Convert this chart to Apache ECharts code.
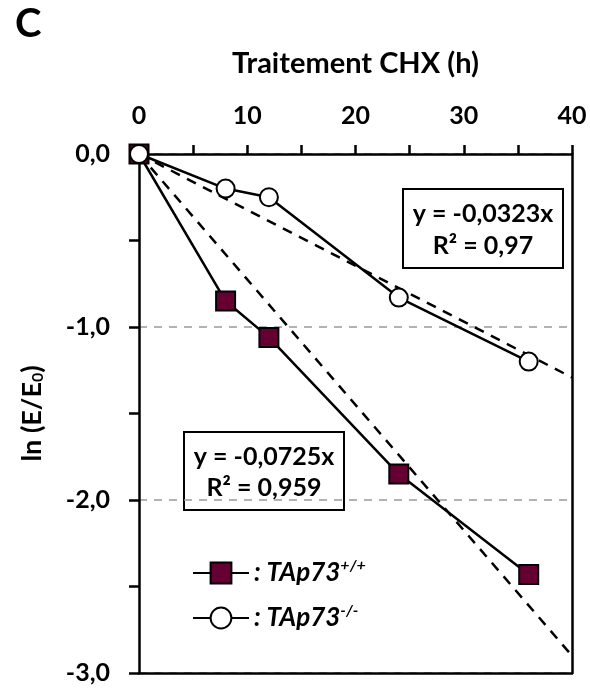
<!DOCTYPE html>
<html><head><meta charset="utf-8">
<script src="https://cdn.jsdelivr.net/npm/echarts@6/dist/echarts.min.js"></script>
<style>html,body{margin:0;padding:0;background:#fff}#c{width:590px;height:690px}</style>
</head><body><div id="c"></div>
<script>
// ---- data ----
const timesH = [0, 8, 12, 24, 36];
const wildType = [0, -0.85, -1.06, -1.85, -2.43];      // TAp73+/+
const knockout = [0, -0.20, -0.25, -0.83, -1.20];      // TAp73-/-
const fitWildTypeX = [0, 40];
const fitWildTypeY = [0, -2.90];
const fitKnockoutX = [0, 40];
const fitKnockoutY = [0, -1.292];
const wtEquation = ['y = -0,0725x', 'R² = 0,959'];
const koEquation = ['y = -0,0323x', 'R² = 0,97'];
const xTickLabels = ['0', '10', '20', '30', '40'];
const yTickLabels = ['0,0', '-1,0', '-2,0', '-3,0'];

const FONT = 'Lato';
const zip = (xs, ys) => xs.map((x, i) => [x, ys[i]]);
const eqText = (x, y, t) => ({type: 'text', x: x, y: y, style: {text: t, align: 'center', verticalAlign: 'middle', fontSize: 25, fontWeight: 'bold', fontFamily: FONT, fill: '#000'}});
const frameLine = {onZero: false, lineStyle: {color: '#000', width: 2.5}};

const chart = echarts.init(document.getElementById('c'), null, {renderer: 'canvas'});
chart.setOption({
  animation: false,
  backgroundColor: '#fff',
  textStyle: {fontFamily: FONT},
  grid: {left: 139, right: 18, top: 154, bottom: 17},
  xAxis: [{
    type: 'value', position: 'top', min: 0, max: 40, interval: 10,
    name: 'Traitement CHX (h)', nameLocation: 'middle', nameGap: 76,
    nameTextStyle: {fontSize: 29, fontWeight: 'bold', color: '#000', fontFamily: FONT},
    axisLine: frameLine,
    axisTick: {show: true, inside: false, length: 9, lineStyle: {color: '#000', width: 2.5}},
    minorTick: {show: true, splitNumber: 2, length: 9, lineStyle: {color: '#000', width: 2.5}},
    axisLabel: {margin: 26, fontSize: 25, fontWeight: 'bold', color: '#000', fontFamily: FONT,
      formatter: v => xTickLabels[xTickLabels.indexOf(String(v))] || ''},
    splitLine: {show: false}
  }, {
    type: 'value', position: 'bottom', min: 0, max: 40, z: 5,
    axisLine: frameLine, axisTick: {show: false}, axisLabel: {show: false}, splitLine: {show: false}
  }],
  yAxis: [{
    type: 'value', min: -3, max: 0, interval: 1,
    name: '{a|ln (E/E}{b|0}{a|)}', nameLocation: 'middle', nameGap: 93, nameRotate: 90,
    nameTextStyle: {color: '#000', rich: {
      a: {fontSize: 27, fontWeight: 'bold', color: '#000', fontFamily: FONT},
      b: {fontSize: 16, fontWeight: 'bold', color: '#000', fontFamily: FONT, padding: [12, 0, 0, 0]}
    }},
    axisLine: frameLine,
    axisTick: {show: true, inside: false, length: 10, lineStyle: {color: '#000', width: 2.5}},
    minorTick: {show: true, splitNumber: 2, length: 10, lineStyle: {color: '#000', width: 2.5}},
    axisLabel: {margin: 29, fontSize: 25, fontWeight: 'bold', color: '#000', fontFamily: FONT,
      formatter: v => yTickLabels[-Math.round(v)]},
    splitLine: {show: true, lineStyle: {color: '#999', width: 1.5, type: [8, 7]}}
  }, {
    type: 'value', position: 'right', min: -3, max: 0, z: 5,
    axisLine: frameLine, axisTick: {show: false}, axisLabel: {show: false}, splitLine: {show: false}
  }],
  legend: {
    orient: 'vertical', left: 192, top: 558, padding: 0, itemWidth: 56, itemHeight: 26, itemGap: 15,
    data: ['wt', 'ko'],
    formatter: n => n === 'wt' ? '{t|: TAp73}{s|+/+}' : '{t|: TAp73}{s|-/-}',
    textStyle: {rich: {
      t: {fontSize: 26, lineHeight: 30, fontWeight: 'bold', fontStyle: 'italic', color: '#000', fontFamily: FONT},
      s: {fontSize: 16, lineHeight: 14, fontWeight: 'bold', fontStyle: 'italic', color: '#000', fontFamily: FONT, padding: [0, 0, 14, 0]}
    }}
  },
  series: [
    {name: 'fitWt', type: 'line', data: zip(fitWildTypeX, fitWildTypeY), symbol: 'none', z: 1,
     lineStyle: {color: '#000', width: 2.5, type: [10, 8]}},
    {name: 'fitKo', type: 'line', data: zip(fitKnockoutX, fitKnockoutY), symbol: 'none', z: 1,
     lineStyle: {color: '#000', width: 2.5, type: [10, 8]}},
    {name: 'wt', type: 'line', data: zip(timesH, wildType), symbol: 'rect', symbolSize: 19, z: 3,
     lineStyle: {color: '#000', width: 2.5},
     itemStyle: {color: '#660033', borderColor: '#000', borderWidth: 2}},
    {name: 'ko', type: 'line', data: zip(timesH, knockout), symbol: 'circle', symbolSize: 18, z: 4,
     lineStyle: {color: '#000', width: 2.5},
     itemStyle: {color: '#fff', borderColor: '#000', borderWidth: 2}}
  ],
  graphic: [
    {type: 'text', left: 15, top: 4, z: 100, style: {text: 'C', fontSize: 40, fontWeight: 'bold', fontFamily: FONT, fill: '#000'}},
    {type: 'group', left: 402, top: 188, z: 100, children: [
      {type: 'rect', shape: {x: 0, y: 0, width: 160, height: 79}, style: {fill: '#fff', stroke: '#000', lineWidth: 2}},
      eqText(80, 25, koEquation[0]), eqText(80, 57, koEquation[1])
    ]},
    {type: 'group', left: 183, top: 431, z: 100, children: [
      {type: 'rect', shape: {x: 0, y: 0, width: 160, height: 78}, style: {fill: '#fff', stroke: '#000', lineWidth: 2}},
      eqText(80, 25, wtEquation[0]), eqText(80, 56, wtEquation[1])
    ]}
  ]
});
</script></body></html>
